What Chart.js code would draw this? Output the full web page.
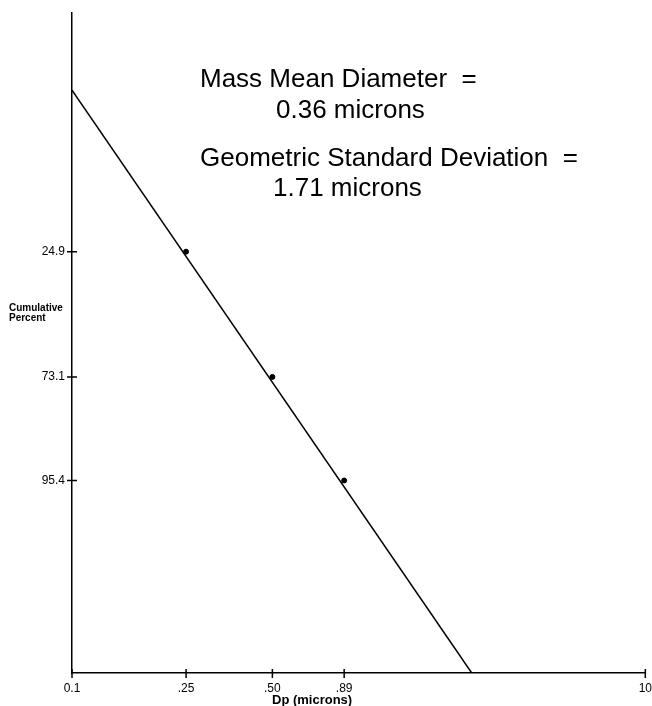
<!DOCTYPE html>
<html lang="en">
<head>
    <meta charset="UTF-8">
    <title>Cumulative Percent vs Dp</title>
    <script src="https://cdn.jsdelivr.net/npm/chart.js"></script>
    <style>
        body {
            margin: 0;
            padding: 0;
            background-color: #fff;
        }
        .container {
            width: 652px;
            height: 706px;
        }
    </style>
</head>
<body>
    <div class="container">
        <canvas id="myChart" width="652" height="706"></canvas>
    </div>
    <script>
        // measured points
        const dpValues = [0.25, 0.50, 0.89];
        const cumPercent = [24.9, 73.1, 95.4];

        // fitted line, end to end
        const lineDp = [0.1, 2.48];
        const linePercent = [0.95, 99.988];

        // axis ticks
        const xTickValues = [0.1, 0.25, 0.5, 0.89, 10];
        const xTickLabels = ['0.1', '.25', '.50', '.89', '10'];
        const yTickPercent = [24.9, 73.1, 95.4];
        const yTickLabels = ['24.9', '73.1', '95.4'];

        // probability axis range (percent)
        const yTopPercent = 0.084;
        const yBottomPercent = 99.988;

        const FONT = "'Liberation Sans', Arial, Helvetica, sans-serif";

        // inverse normal cdf (Acklam)
        function probit(p) {
            const a = [-3.969683028665376e+01, 2.209460984245205e+02, -2.759285104469687e+02, 1.383577518672690e+02, -3.066479806614716e+01, 2.506628277459239e+00];
            const b = [-5.447609879822406e+01, 1.615858368580409e+02, -1.556989798598866e+02, 6.680131188771972e+01, -1.328068155288572e+01];
            const c = [-7.784894002430293e-03, -3.223964580411365e-01, -2.400758277161838e+00, -2.549732839470911e+00, 4.374664141464968e+00, 2.938163982698783e+00];
            const d = [7.784695709041462e-03, 3.224671290700398e-01, 2.445134137142996e+00, 3.754408661907416e+00];
            const pl = 0.02425;
            let q, r;
            if (p < pl) {
                q = Math.sqrt(-2 * Math.log(p));
                return (((((c[0] * q + c[1]) * q + c[2]) * q + c[3]) * q + c[4]) * q + c[5]) /
                    ((((d[0] * q + d[1]) * q + d[2]) * q + d[3]) * q + 1);
            }
            if (p <= 1 - pl) {
                q = p - 0.5;
                r = q * q;
                return (((((a[0] * r + a[1]) * r + a[2]) * r + a[3]) * r + a[4]) * r + a[5]) * q /
                    (((((b[0] * r + b[1]) * r + b[2]) * r + b[3]) * r + b[4]) * r + 1);
            }
            q = Math.sqrt(-2 * Math.log(1 - p));
            return -(((((c[0] * q + c[1]) * q + c[2]) * q + c[3]) * q + c[4]) * q + c[5]) /
                ((((d[0] * q + d[1]) * q + d[2]) * q + d[3]) * q + 1);
        }
        const z = pct => probit(pct / 100);

        // tick marks that cross the axes + text annotations
        const extras = {
            id: 'extras',
            afterDraw(chart) {
                const ctx = chart.ctx;
                const xs = chart.scales.x, ys = chart.scales.y;
                const area = chart.chartArea;
                ctx.save();
                ctx.strokeStyle = '#000';
                ctx.lineWidth = 1.5;
                ctx.beginPath();
                xTickValues.forEach(v => {
                    const px = xs.getPixelForValue(v);
                    ctx.moveTo(px, area.bottom - 4);
                    ctx.lineTo(px, area.bottom + 5);
                });
                yTickPercent.forEach(v => {
                    const py = ys.getPixelForValue(z(v));
                    ctx.moveTo(area.left - 5, py);
                    ctx.lineTo(area.left + 5, py);
                });
                ctx.stroke();

                ctx.fillStyle = '#000';
                ctx.textBaseline = 'alphabetic';
                ctx.textAlign = 'left';
                ctx.font = '26px ' + FONT;
                ctx.fillText('Mass Mean Diameter  =', 200, 87);
                ctx.fillText('0.36 microns', 276, 118);
                ctx.fillText('Geometric Standard Deviation  =', 200, 166);
                ctx.fillText('1.71 microns', 273, 196);

                ctx.font = 'bold 10px ' + FONT;
                ctx.fillText('Cumulative', 9, 311);
                ctx.fillText('Percent', 9, 321);

                ctx.font = 'bold 13px ' + FONT;
                ctx.fillText('Dp (microns)', 272, 704);
                ctx.restore();
            }
        };

        document.addEventListener('DOMContentLoaded', function () {
            const ctx = document.getElementById('myChart').getContext('2d');
            new Chart(ctx, {
                type: 'scatter',
                data: {
                    datasets: [{
                        label: 'Fit',
                        data: lineDp.map((x, i) => ({ x: x, y: z(linePercent[i]) })),
                        showLine: true,
                        borderColor: '#000',
                        borderWidth: 1.5,
                        pointRadius: 0
                    }, {
                        label: 'Data',
                        data: dpValues.map((x, i) => ({ x: x, y: z(cumPercent[i]) })),
                        backgroundColor: '#000',
                        borderColor: '#000',
                        pointRadius: 2.5
                    }]
                },
                options: {
                    responsive: false,
                    animation: false,
                    layout: {
                        padding: { top: 13, right: 6, left: 0, bottom: 0 }
                    },
                    plugins: {
                        legend: { display: false },
                        tooltip: { enabled: false }
                    },
                    scales: {
                        x: {
                            type: 'logarithmic',
                            min: 0.1,
                            max: 10,
                            afterBuildTicks: scale => {
                                scale.ticks = xTickValues.map(v => ({ value: v }));
                            },
                            afterFit: scale => { scale.height = 33; },
                            ticks: {
                                autoSkip: false,
                                maxRotation: 0,
                                padding: 0,
                                color: '#000',
                                font: { family: FONT, size: 12 },
                                callback: (val, i) => xTickLabels[i]
                            },
                            grid: { display: false, tickLength: 8 },
                            border: { display: true, color: '#000', width: 1.5 }
                        },
                        y: {
                            type: 'linear',
                            reverse: true,
                            min: z(yTopPercent),
                            max: z(yBottomPercent),
                            afterBuildTicks: scale => {
                                scale.ticks = yTickPercent.map(v => ({ value: z(v) }));
                            },
                            afterFit: scale => { scale.width = 72; },
                            ticks: {
                                autoSkip: false,
                                padding: 0,
                                color: '#000',
                                font: { family: FONT, size: 12 },
                                callback: (val, i) => yTickLabels[i]
                            },
                            grid: { display: false, tickLength: 7 },
                            border: { display: true, color: '#000', width: 1.5 }
                        }
                    }
                },
                plugins: [extras]
            });
        });
    </script>
</body>
</html>
